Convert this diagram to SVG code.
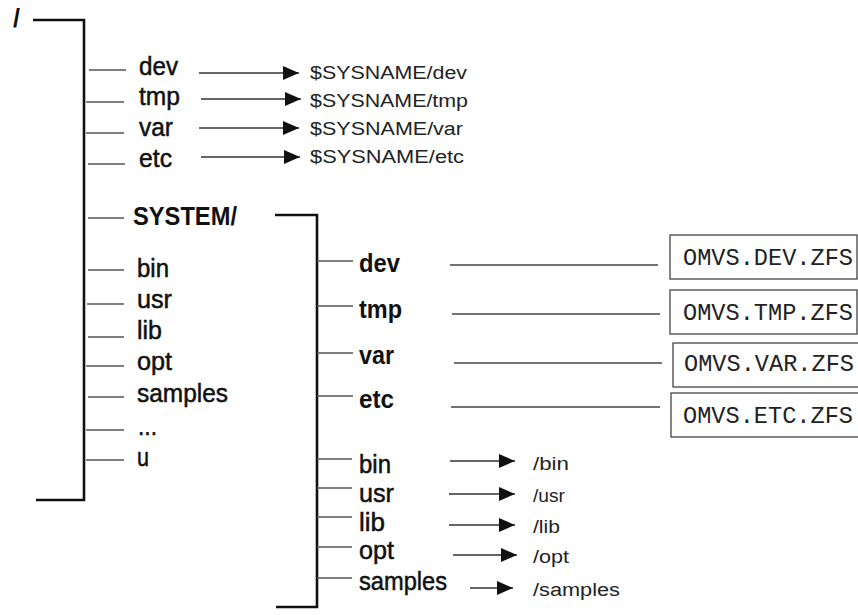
<svg xmlns="http://www.w3.org/2000/svg" width="858" height="615" viewBox="0 0 858 615">
<defs>
<marker id="ah" viewBox="0 0 16 14" refX="16" refY="7" markerWidth="16" markerHeight="14" markerUnits="userSpaceOnUse" orient="auto">
<path d="M0,0 L16,7 L0,14 z" fill="#111"/>
</marker>
<style>
.lbl{font-family:"Liberation Sans",Arial,sans-serif;font-size:25px;fill:#111;stroke:#111;stroke-width:0.5px;}
.bld{font-family:"Liberation Sans",Arial,sans-serif;font-size:25px;font-weight:bold;fill:#111;}
.tgt{font-family:"Liberation Sans",Arial,sans-serif;font-size:18px;fill:#222;}
.mono{font-family:"Liberation Mono","Courier New",monospace;font-size:23px;fill:#222;}
.br{fill:none;stroke:#111;stroke-width:2.6;}
.tick{stroke:#555;stroke-width:1.3;fill:none;}
.arr{stroke:#333;stroke-width:1.3;fill:none;marker-end:url(#ah);}
.ln{stroke:#444;stroke-width:1.3;fill:none;}
.box{fill:#fff;stroke:#444;stroke-width:1.3;}
</style>
</defs>
<rect width="858" height="615" fill="#fff"/>

<g id="connectors">
<path class="br" d="M33,20 H84 V500 H36"/>
<path class="br" d="M275,215 H317 V607 H276"/>
<line class="tick" x1="89" y1="70" x2="126" y2="70"/>
<line class="tick" x1="86" y1="102" x2="124" y2="102"/>
<line class="tick" x1="86" y1="133" x2="124" y2="133"/>
<line class="tick" x1="88" y1="164" x2="125" y2="164"/>
<line class="tick" x1="88" y1="218" x2="124" y2="218"/>
<line class="tick" x1="88" y1="270" x2="124" y2="270"/>
<line class="tick" x1="87" y1="304" x2="124" y2="304"/>
<line class="tick" x1="88" y1="337" x2="124" y2="337"/>
<line class="tick" x1="86" y1="366" x2="124" y2="366"/>
<line class="tick" x1="88" y1="397" x2="124" y2="397"/>
<line class="tick" x1="86" y1="430" x2="124" y2="430"/>
<line class="tick" x1="86" y1="460" x2="124" y2="460"/>
<line class="arr" x1="199" y1="73" x2="299" y2="73"/>
<line class="arr" x1="201" y1="99" x2="301" y2="99"/>
<line class="arr" x1="199" y1="128" x2="299" y2="128"/>
<line class="arr" x1="201" y1="157" x2="300" y2="157"/>
<line class="tick" x1="317" y1="261" x2="353" y2="261"/>
<line class="tick" x1="317" y1="306" x2="353" y2="306"/>
<line class="tick" x1="317" y1="353" x2="353" y2="353"/>
<line class="tick" x1="317" y1="396" x2="353" y2="396"/>
<line class="tick" x1="317" y1="459" x2="352" y2="459"/>
<line class="tick" x1="317" y1="488" x2="352" y2="488"/>
<line class="tick" x1="317" y1="517" x2="352" y2="517"/>
<line class="tick" x1="317" y1="547" x2="352" y2="547"/>
<line class="tick" x1="317" y1="578" x2="352" y2="578"/>
<line class="ln" x1="450" y1="265" x2="658" y2="265"/>
<line class="ln" x1="452" y1="314" x2="660" y2="314"/>
<line class="ln" x1="454" y1="363" x2="662" y2="363"/>
<line class="ln" x1="451" y1="407" x2="660" y2="407"/>
<line class="arr" x1="450" y1="461" x2="515" y2="461"/>
<line class="arr" x1="449" y1="494" x2="515" y2="494"/>
<line class="arr" x1="449" y1="525" x2="515" y2="525"/>
<line class="arr" x1="453" y1="555" x2="517" y2="555"/>
<line class="arr" x1="470" y1="588" x2="513" y2="588"/>
</g>

<g id="root"><text class="bld" x="13" y="27" font-size="22">/</text></g>
<g id="dev"><text class="lbl" x="139" y="75" textLength="39" lengthAdjust="spacingAndGlyphs">dev</text></g>
<g id="tmp"><text class="lbl" x="139" y="105" textLength="41" lengthAdjust="spacingAndGlyphs">tmp</text></g>
<g id="var"><text class="lbl" x="139" y="136" textLength="34" lengthAdjust="spacingAndGlyphs">var</text></g>
<g id="etc"><text class="lbl" x="139" y="167" textLength="33" lengthAdjust="spacingAndGlyphs">etc</text></g>
<g id="sys-dev"><text class="tgt" x="310" y="79" textLength="157" lengthAdjust="spacingAndGlyphs">$SYSNAME/dev</text></g>
<g id="sys-tmp"><text class="tgt" x="310" y="107" textLength="158" lengthAdjust="spacingAndGlyphs">$SYSNAME/tmp</text></g>
<g id="sys-var"><text class="tgt" x="310" y="135" textLength="153" lengthAdjust="spacingAndGlyphs">$SYSNAME/var</text></g>
<g id="sys-etc"><text class="tgt" x="310" y="163" textLength="154" lengthAdjust="spacingAndGlyphs">$SYSNAME/etc</text></g>
<g id="SYSTEM"><text class="bld" x="133" y="225" textLength="104" lengthAdjust="spacingAndGlyphs">SYSTEM/</text></g>
<g id="bin"><text class="lbl" x="137" y="277" textLength="32" lengthAdjust="spacingAndGlyphs">bin</text></g>
<g id="usr"><text class="lbl" x="137" y="308" textLength="35" lengthAdjust="spacingAndGlyphs">usr</text></g>
<g id="lib"><text class="lbl" x="137" y="339" textLength="25" lengthAdjust="spacingAndGlyphs">lib</text></g>
<g id="opt"><text class="lbl" x="137" y="370" textLength="35" lengthAdjust="spacingAndGlyphs">opt</text></g>
<g id="samples"><text class="lbl" x="137" y="402" textLength="91" lengthAdjust="spacingAndGlyphs">samples</text></g>
<g id="more"><text class="lbl" x="138" y="435" textLength="19" lengthAdjust="spacingAndGlyphs">...</text></g>
<g id="u"><text class="lbl" x="137" y="466" textLength="12" lengthAdjust="spacingAndGlyphs">u</text></g>

<g id="s-dev"><text class="bld" x="359" y="272" textLength="41" lengthAdjust="spacingAndGlyphs">dev</text></g>
<g id="s-tmp"><text class="bld" x="359" y="318" textLength="43" lengthAdjust="spacingAndGlyphs">tmp</text></g>
<g id="s-var"><text class="bld" x="359" y="364" textLength="35" lengthAdjust="spacingAndGlyphs">var</text></g>
<g id="s-etc"><text class="bld" x="359" y="408" textLength="35" lengthAdjust="spacingAndGlyphs">etc</text></g>

<g id="zfs-dev"><rect class="box" x="670" y="235" width="187" height="44"/><text class="mono" x="683" y="265" textLength="170" lengthAdjust="spacingAndGlyphs">OMVS.DEV.ZFS</text></g>
<g id="zfs-tmp"><rect class="box" x="670" y="290" width="187" height="44"/><text class="mono" x="683" y="320" textLength="170" lengthAdjust="spacingAndGlyphs">OMVS.TMP.ZFS</text></g>
<g id="zfs-var"><rect class="box" x="673" y="343" width="200" height="44"/><text class="mono" x="684" y="371" textLength="170" lengthAdjust="spacingAndGlyphs">OMVS.VAR.ZFS</text></g>
<g id="zfs-etc"><rect class="box" x="671" y="393" width="200" height="44"/><text class="mono" x="683" y="423" textLength="170" lengthAdjust="spacingAndGlyphs">OMVS.ETC.ZFS</text></g>

<g id="s-bin"><text class="lbl" x="359" y="473" textLength="32" lengthAdjust="spacingAndGlyphs">bin</text></g>
<g id="s-usr"><text class="lbl" x="359" y="502" textLength="35" lengthAdjust="spacingAndGlyphs">usr</text></g>
<g id="s-lib"><text class="lbl" x="359" y="531" textLength="26" lengthAdjust="spacingAndGlyphs">lib</text></g>
<g id="s-opt"><text class="lbl" x="359" y="559" textLength="35" lengthAdjust="spacingAndGlyphs">opt</text></g>
<g id="s-samples"><text class="lbl" x="359" y="590" textLength="88" lengthAdjust="spacingAndGlyphs">samples</text></g>

<g id="t-bin"><text class="tgt" x="533" y="470" textLength="36" lengthAdjust="spacingAndGlyphs">/bin</text></g>
<g id="t-usr"><text class="tgt" x="533" y="502" textLength="32" lengthAdjust="spacingAndGlyphs">/usr</text></g>
<g id="t-lib"><text class="tgt" x="533" y="533" textLength="27" lengthAdjust="spacingAndGlyphs">/lib</text></g>
<g id="t-opt"><text class="tgt" x="533" y="563" textLength="36" lengthAdjust="spacingAndGlyphs">/opt</text></g>
<g id="t-samples"><text class="tgt" x="533" y="596" textLength="87" lengthAdjust="spacingAndGlyphs">/samples</text></g>
</svg>
